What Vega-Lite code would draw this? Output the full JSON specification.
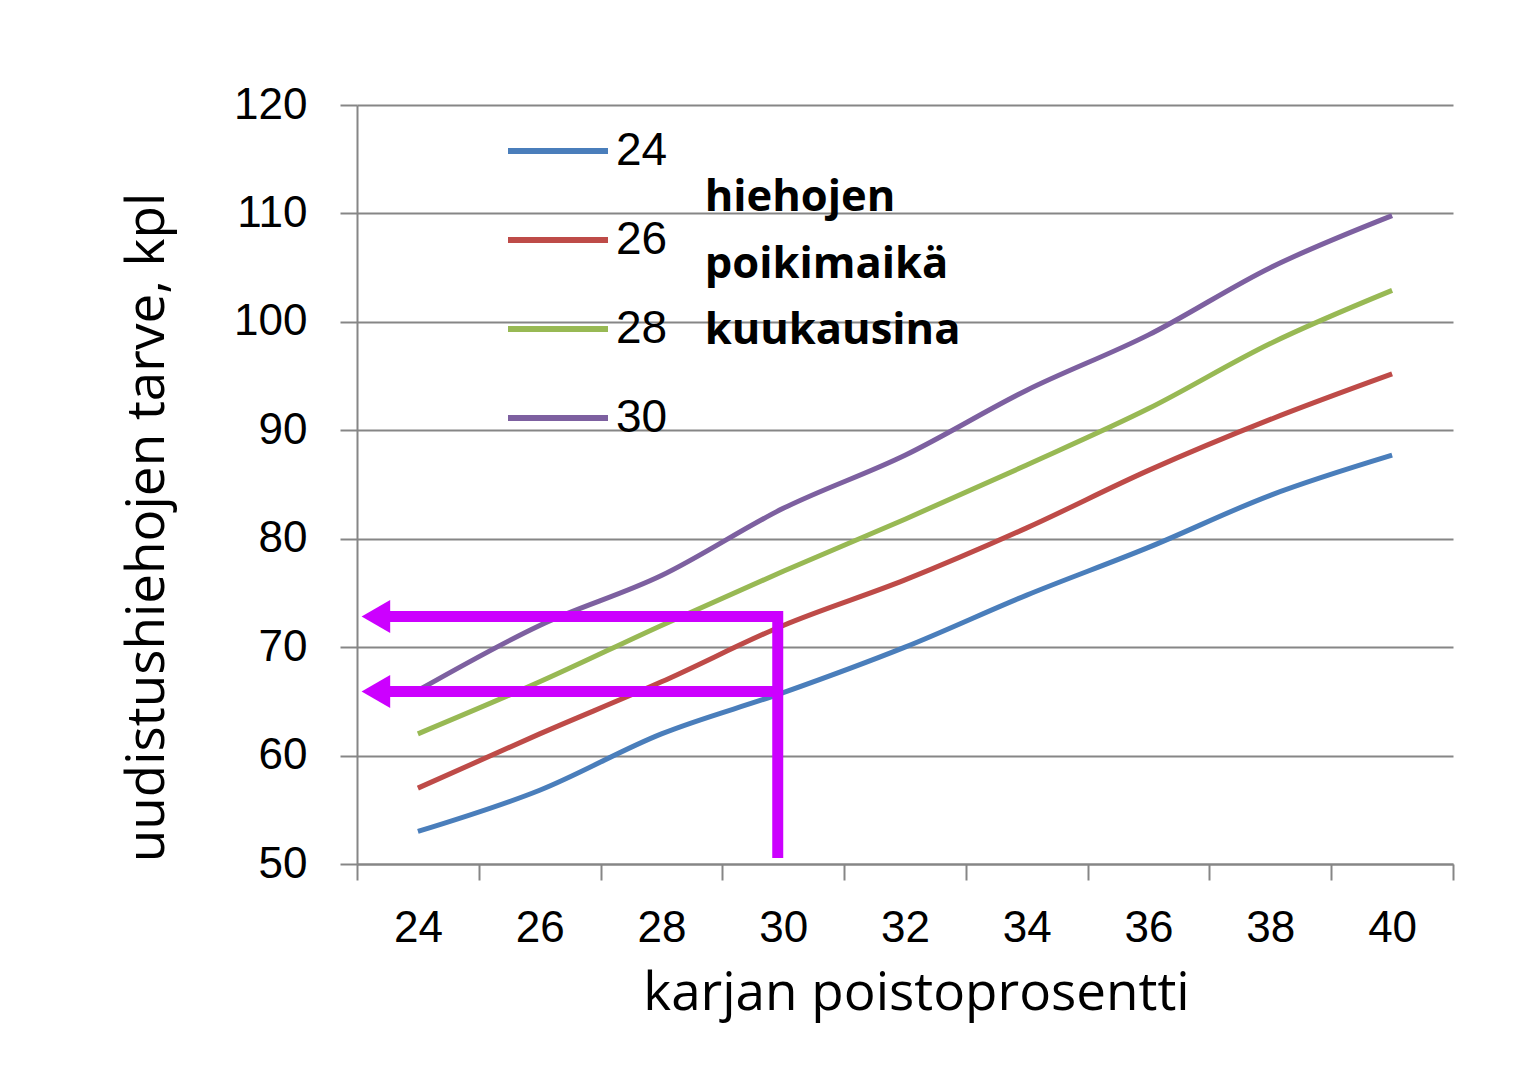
{
  "$schema": "https://vega.github.io/schema/vega-lite/v6.json",
  "width": 1096,
  "height": 759,
  "autosize": {"type": "none"},
  "padding": {"left": 357, "top": 105, "right": 81, "bottom": 210},
  "background": "white",
  "config": {"view": {"stroke": null}},
  "layer": [
    {
      "data": {"values": [
        {"pct": 24, "need": 53, "age": "24"}, {"pct": 26, "need": 56.8, "age": "24"}, {"pct": 28, "need": 62, "age": "24"},
        {"pct": 30, "need": 65.8, "age": "24"}, {"pct": 32, "need": 70, "age": "24"}, {"pct": 34, "need": 74.8, "age": "24"},
        {"pct": 36, "need": 79.2, "age": "24"}, {"pct": 38, "need": 84, "age": "24"}, {"pct": 40, "need": 87.7, "age": "24"},
        {"pct": 24, "need": 57, "age": "26"}, {"pct": 26, "need": 62, "age": "26"}, {"pct": 28, "need": 66.8, "age": "26"},
        {"pct": 30, "need": 72, "age": "26"}, {"pct": 32, "need": 76.2, "age": "26"}, {"pct": 34, "need": 81, "age": "26"},
        {"pct": 36, "need": 86.3, "age": "26"}, {"pct": 38, "need": 91, "age": "26"}, {"pct": 40, "need": 95.2, "age": "26"},
        {"pct": 24, "need": 62, "age": "28"}, {"pct": 26, "need": 66.8, "age": "28"}, {"pct": 28, "need": 72, "age": "28"},
        {"pct": 30, "need": 77, "age": "28"}, {"pct": 32, "need": 81.8, "age": "28"}, {"pct": 34, "need": 86.8, "age": "28"},
        {"pct": 36, "need": 92, "age": "28"}, {"pct": 38, "need": 98, "age": "28"}, {"pct": 40, "need": 102.9, "age": "28"},
        {"pct": 24, "need": 66, "age": "30"}, {"pct": 26, "need": 72, "age": "30"}, {"pct": 28, "need": 76.6, "age": "30"},
        {"pct": 30, "need": 82.8, "age": "30"}, {"pct": 32, "need": 87.7, "age": "30"}, {"pct": 34, "need": 93.7, "age": "30"},
        {"pct": 36, "need": 98.8, "age": "30"}, {"pct": 38, "need": 105, "age": "30"}, {"pct": 40, "need": 109.8, "age": "30"}
      ]},
      "mark": {"type": "line", "strokeWidth": 5, "interpolate": "monotone"},
      "encoding": {
        "x": {
          "field": "pct", "type": "quantitative",
          "scale": {"domain": [23, 41], "nice": false, "zero": false},
          "axis": {
            "title": "karjan poistoprosentti",
            "values": [23, 24, 25, 26, 27, 28, 29, 30, 31, 32, 33, 34, 35, 36, 37, 38, 39, 40, 41],
            "format": "d",
            "labelExpr": "datum.value % 2 == 0 ? datum.label : ''",
            "tickOpacity": {"condition": {"test": "datum.value % 2 == 0", "value": 0}, "value": 1},
            "grid": false,
            "domainColor": "#868686", "domainWidth": 2,
            "tickColor": "#868686", "tickWidth": 2, "tickSize": 16,
            "labelFont": "Liberation Sans", "labelFontSize": 44, "labelColor": "#000000",
            "labelBaseline": "middle", "labelPadding": 48, "labelFlush": false, "labelOverlap": false,
            "titleFont": "Open Sans", "titleFontSize": 53, "titleFontWeight": "normal", "titleColor": "#000000",
            "titleX": 559, "titleY": 145, "titleBaseline": "alphabetic", "titleAlign": "center"
          }
        },
        "y": {
          "field": "need", "type": "quantitative",
          "scale": {"domain": [50, 120], "nice": false, "zero": false},
          "axis": {
            "title": "uudistushiehojen tarve, kpl",
            "values": [50, 60, 70, 80, 90, 100, 110, 120],
            "grid": true, "gridColor": "#868686", "gridWidth": 2,
            "domainColor": "#868686", "domainWidth": 2,
            "tickColor": "#868686", "tickWidth": 2, "tickSize": 17,
            "labelFont": "Liberation Sans", "labelFontSize": 44, "labelColor": "#000000",
            "labelPadding": 33, "labelOverlap": false,
            "titleFont": "Open Sans", "titleFontSize": 53, "titleFontWeight": "normal", "titleColor": "#000000",
            "titleAngle": -90, "titleX": -194, "titleY": 422, "titleBaseline": "alphabetic", "titleAlign": "center"
          }
        },
        "color": {
          "field": "age", "type": "nominal",
          "scale": {"domain": ["24", "26", "28", "30"], "range": ["#4a7ebb", "#be4b48", "#98b954", "#7d60a0"]},
          "legend": {
            "title": null, "orient": "none", "legendX": 148, "legendY": -7, "padding": 0,
            "symbolType": "stroke", "symbolSize": 10000, "symbolStrokeWidth": 6,
            "labelFont": "Liberation Sans", "labelFontSize": 46, "labelColor": "#000000",
            "labelOffset": 5, "rowPadding": 13
          }
        }
      }
    },
    {
      "data": {"values": [
        {"pct": 23.5, "pct2": 29.99, "need": 72.83, "need2": 72.83},
        {"pct": 23.5, "pct2": 29.99, "need": 65.9, "need2": 65.9},
        {"pct": 29.91, "pct2": 29.91, "need": 50.55, "need2": 73.33}
      ]},
      "mark": {"type": "rule", "color": "#cc00ff", "strokeWidth": 11, "strokeCap": "butt"},
      "encoding": {
        "x": {"field": "pct", "type": "quantitative"},
        "x2": {"field": "pct2"},
        "y": {"field": "need", "type": "quantitative"},
        "y2": {"field": "need2"}
      }
    },
    {
      "data": {"values": [
        {"pct": 23.31, "need": 72.83},
        {"pct": 23.31, "need": 65.9}
      ]},
      "mark": {"type": "point", "shape": "triangle-left", "filled": true, "color": "#cc00ff", "opacity": 1, "size": 1089},
      "encoding": {
        "x": {"field": "pct", "type": "quantitative"},
        "y": {"field": "need", "type": "quantitative"}
      }
    },
    {
      "data": {"values": [
        {"pct": 28.71, "need": 110.2, "txt": "hiehojen"},
        {"pct": 28.71, "need": 104.04, "txt": "poikimaikä"},
        {"pct": 28.71, "need": 97.96, "txt": "kuukausina"}
      ]},
      "mark": {"type": "text", "align": "left", "baseline": "alphabetic", "font": "Open Sans", "fontWeight": "bold", "fontSize": 43.5, "color": "#000000"},
      "encoding": {
        "x": {"field": "pct", "type": "quantitative"},
        "y": {"field": "need", "type": "quantitative"},
        "text": {"field": "txt"}
      }
    }
  ]
}
